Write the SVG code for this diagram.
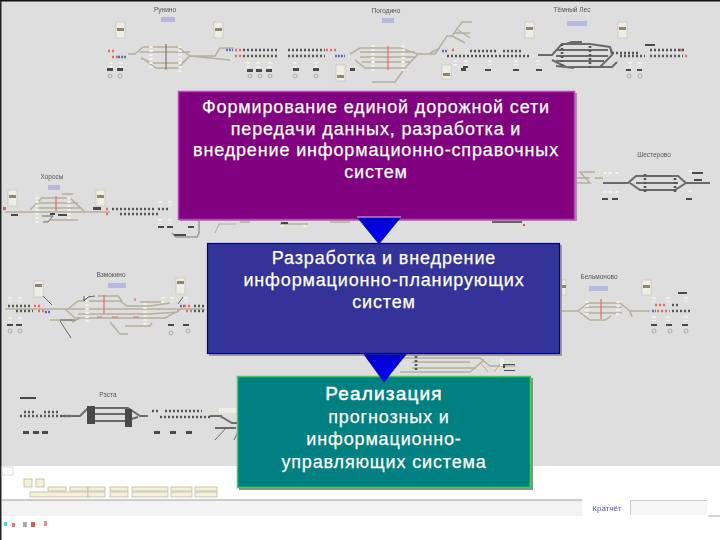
<svg xmlns="http://www.w3.org/2000/svg" width="720" height="540" viewBox="0 0 720 540">
<defs>
<filter id="soft" x="-5%" y="-5%" width="110%" height="110%"><feGaussianBlur stdDeviation="0.6"/></filter>
<linearGradient id="tri" x1="0" y1="0" x2="0" y2="1"><stop offset="0" stop-color="#0000cc"/><stop offset="1" stop-color="#0000ff"/></linearGradient>
</defs>
<style>
.t{fill:none;stroke:#b4b09c;stroke-width:1.5}
.d{fill:none;stroke:#6a6a6a;stroke-width:2}
.n{fill:none;stroke:#666;stroke-width:1}
.k{fill:none;stroke:#555;stroke-width:2.6;stroke-dasharray:2 2}
.r{fill:none;stroke:#ee6666;stroke-width:2.6;stroke-dasharray:2 2}
.rl{fill:none;stroke:#ee6666;stroke-width:1.2}
.u{fill:none;stroke:#6666bb;stroke-width:2.6;stroke-dasharray:2 1}
.w{fill:none;stroke:#f4f1e4;stroke-width:3.5;stroke-dasharray:2 2}
.b{fill:#4a4a4a}
.c{fill:none;stroke:#aaa;stroke-width:1}
.cab{fill:#efeee4;stroke:#bbb;stroke-width:.6}
.cat{fill:#8d8768}
.pl{fill:#b8b8dc}
.st{font-family:"Liberation Sans",sans-serif;font-size:6.5px;fill:#555;text-anchor:middle}
.btn{fill:#f4f1d8;stroke:#b5b29a;stroke-width:.7}
.m{font-family:"Liberation Sans",sans-serif;font-size:18px;fill:#fff;text-anchor:middle;letter-spacing:.85px;stroke:#fff;stroke-width:.25}
.h{font-size:19px;letter-spacing:1.2px;stroke-width:.5}
</style>
<rect width="720" height="540" fill="#fff"/>
<rect x="1" y="1" width="719" height="465" fill="#dedede"/>
<rect width="720" height="1.5" fill="#111"/>
<rect width="1.5" height="540" fill="#222"/>
<g id="schematics" filter="url(#soft)">
<!-- Рунино -->
<text class="st" x="165" y="12">Рунино</text><rect class="pl" x="161" y="17" width="14" height="5"/>
<rect class="cab" x="116" y="22" width="9" height="16"/><rect class="cat" x="117" y="28" width="7" height="3"/>
<rect class="cab" x="214" y="22" width="9" height="16"/><rect class="cat" x="215" y="28" width="7" height="3"/>
<path class="t" d="M128 54H135L143 47H178L190 56H215L220 48H234M140 52H190M141 58L151 63H182L190 56M146 61L156 68H178L190 56M190 56L230 60"/>
<path class="w" d="M151 46v24M180 46v26"/>
<path class="n" d="M166 44v26"/>
<path class="r" d="M108 51H116M112 57H120M235 50H241M235 56H241"/>
<path class="u" d="M118 57H127M226 50H233"/>
<path class="k" d="M243 50H278M288 50H325"/>
<path class="k" d="M243 56H278M288 56H325"/>
<path class="r" d="M326 50H336"/><path class="u" d="M335 56H345"/>
<path class="w" d="M111 62v6M121 62v6M248 62v6M258 62v6M270 62v6M295 62v6M316 62v6"/>
<path class="b" d="M107 68h6v3h-6zM117 68h6v3h-6zM247 69h6v3h-6zM256 69h6v3h-6zM266 69h6v3h-6zM293 68h6v3h-6zM313 68h6v3h-6zM350 68h5v3h-5z"/>
<circle class="c" cx="110" cy="76" r="2"/><circle class="c" cx="120" cy="76" r="2"/>
<circle class="c" cx="250" cy="76" r="2"/><circle class="c" cx="260" cy="76" r="2"/><circle class="c" cx="270" cy="76" r="2"/><circle class="c" cx="295" cy="76" r="2"/><circle class="c" cx="316" cy="76" r="2"/>
<rect class="cab" x="336" y="65" width="9" height="16"/><rect class="cat" x="337" y="75" width="7" height="3"/>
<!-- Погодино -->
<text class="st" x="386" y="13">Погодино</text><rect class="pl" x="382" y="18" width="12" height="5"/>
<path class="t" d="M350 54L360 48H400L418 54L405 68H365L355 60M360 52H415M360 57H415M362 62H410M418 54H435L447 36H452L462 22H472M455 33H470M458 30L470 38M452 36L465 43M405 68L395 82H372M430 53L440 48"/>
<path class="rl" d="M388 46v24"/>
<path class="w" d="M373 45v26M403 45v26"/>
<rect class="cab" x="442" y="65" width="9" height="14"/><rect class="cat" x="443" y="73" width="7" height="3"/>
<path class="k" d="M470 51H498M503 51H522"/><path class="k" d="M447 56H530"/>
<path class="r" d="M452 50H455"/><path class="u" d="M442 51H447"/>
<path class="w" d="M455 60v6M466 60v6M490 60v5M516 60v5M538 60v5"/>
<path class="b" d="M461 68h5v3h-5zM463 66h5v2h-5zM485 69h6v2h-6zM513 69h6v2h-6zM536 69h6v2h-6z"/>
<!-- Тёмный Лес -->
<text class="st" x="572" y="12">Тёмный Лес</text><rect class="pl" x="567" y="21" width="20" height="5"/>
<rect class="cab" x="525" y="22" width="9" height="16"/><rect class="cat" x="526" y="27" width="7" height="3"/>
<rect class="cab" x="618" y="22" width="9" height="16"/><rect class="cat" x="619" y="27" width="7" height="3"/>
<path class="d" d="M538 55H552L562 44H590L610 47L612 55L600 67H566L552 60M556 50H608M556 56H608M556 61H604M556 66L574 68M600 67H612L617 62M566 44L572 42H582M610 47L612 52"/>
<path class="k" d="M562 44v22M590 46v24"/>
<path class="k" d="M612 53H640M650 50H685M620 56H645M650 56H683"/>
<path class="r" d="M680 50H684M685 56H689"/>
<path class="w" d="M630 62v5M640 62v5"/>
<path class="b" d="M626 69h5v2h-5zM637 69h5v2h-5zM645 44h10v2h-10z"/>
<circle class="c" cx="629" cy="76" r="2"/><circle class="c" cx="640" cy="76" r="2"/>
<!-- Шестерово -->
<text class="st" x="654" y="157">Шестерово</text>
<path class="t" d="M575 183H590L580 172H595M575 178H590M595 178H603"/>
<path class="w" d="M605 172v3M610 172v3M617 172v3M605 191v4M610 191v4M617 191v4M690 170v4M690 190v4"/>
<path class="d" d="M603 183H628L636 176H678L686 183H710M636 183H678M630 183L640 190H675L686 183"/>
<path class="k" d="M645 174v20M675 178v16"/>
<path class="b" d="M602 198h6v2h-6zM612 198h6v2h-6zM686 198h6v2h-6zM692 172h11v2h-11zM694 179h8v2h-8z"/>
<path d="M492 222H522" stroke="#666" stroke-width="2"/><rect x="523" y="224" width="2" height="2" fill="#e44"/>
<!-- Хоросы -->
<text class="st" x="52" y="179">Хоросы</text><rect class="pl" x="48" y="185" width="12" height="5"/>
<rect class="cab" x="8" y="190" width="9" height="16"/><rect class="cat" x="9" y="195" width="7" height="3"/>
<rect class="cab" x="96" y="190" width="9" height="16"/><rect class="cat" x="97" y="195" width="7" height="3"/>
<path class="t" d="M5 212H110M30 210L42 198H70L85 212M36 203H78M38 208H82M62 194H73M50 220H78"/>
<path class="w" d="M37 197v27M69 197v24"/>
<path class="rl" d="M56 196v15"/>
<path class="n" d="M42 216H53L48 222H43"/>
<path class="b" d="M11 214h7v2h-7zM50 213h5v2h-5zM58 214h9v2h-9zM93 207h8v3h-8z"/>
<path class="r" d="M106 209H110M106 214H110"/><rect x="3" y="207" width="3" height="3" fill="#e55"/>
<path class="k" d="M112 209H156M158 209H170"/><path class="k" d="M120 214H158"/>
<path class="w" d="M160 201v5M170 201v5M160 219v5M170 219v5"/>
<path class="b" d="M158 226h6v2h-6zM167 226h6v2h-6zM188 226h6v2h-6z"/>
<path d="M172 233L176 237H197L199 233V220" fill="none" stroke="#999" stroke-width="1.5"/>
<path class="b" d="M174 234h12v2h-12z"/>
<path d="M215 233L219 224H236" fill="none" stroke="#aaa"/>
<path class="t" d="M240 222H250M280 224H308M330 222H350"/><path class="b" d="M281 222h7v2h-7z"/>
<path class="w" d="M282 225v4M305 225v4"/>
<!-- Взмокино -->
<text class="st" x="111" y="277">Взмокино</text><rect class="pl" x="108" y="283" width="18" height="5"/>
<rect class="cab" x="34" y="281" width="9" height="16"/><rect class="cat" x="35" y="284" width="7" height="3"/>
<rect class="cab" x="176" y="278" width="9" height="16"/><rect class="cat" x="177" y="281" width="7" height="3"/>
<path class="t" d="M5 309H205M68 309L78 301H120L127 306H150L170 303M78 314H150L178 312M65 309L75 318H165L180 310M82 301L90 296M98 296H118L122 301M140 302H165M110 322L120 334H128M125 326H150L152 323M50 320H72M72 322L80 318"/>
<path class="w" d="M87 296v26M145 303v24M163 297v8"/>
<path class="n" d="M43 296L52 305M60 321L71 338M183 297L178 304M84 296V301L88 297L95 296M60 320H75"/>
<path class="rl" d="M104 295v19M135 298v3M97 317H102M112 317H118M133 317H139"/>
<path class="k" d="M8 306H30M16 311H33"/>
<path class="r" d="M34 306H40M38 311H44M184 306H190M186 311H192"/><path class="u" d="M45 312H50M180 306H184"/>
<path class="k" d="M194 306H205M194 311H205"/>
<path class="b" d="M7 324h6v2h-6zM16 324h6v2h-6zM168 324h6v2h-6zM183 324h6v2h-6z"/>
<circle class="c" cx="10" cy="331" r="2"/><circle class="c" cx="20" cy="331" r="2"/><circle class="c" cx="171" cy="333" r="2"/><circle class="c" cx="188" cy="331" r="2"/>
<path class="w" d="M10 297v5M20 297v5M10 317v5M20 317v5M172 297v5M186 297v5"/>
<!-- Бельмоново -->
<text class="st" x="599" y="279">Бельмоново</text><rect class="pl" x="589" y="286" width="19" height="5"/>
<rect class="cab" x="562" y="280" width="4" height="15"/><rect class="cat" x="562" y="285" width="4" height="3"/>
<rect class="cab" x="642" y="280" width="9" height="15"/><rect class="cat" x="643" y="285" width="7" height="3"/>
<path class="t" d="M562 311H578L588 303H620L630 311H650M585 307H622M585 313H622M578 311L590 320H605L611 316M630 311L632 317"/>
<path class="rl" d="M601 299v20"/>
<path class="w" d="M587 301v14M618 301v14"/>
<path class="u" d="M652 311H656"/><path class="r" d="M655 305H666M657 311H670"/>
<path class="k" d="M672 311H690M672 305H680"/>
<path class="w" d="M654 297v5M668 297v5M686 297v5M654 316v5M668 316v5M686 316v5"/>
<path class="b" d="M651 324h6v2h-6zM666 324h6v2h-6zM682 324h6v2h-6zM678 292h9v2h-9z"/>
<circle class="c" cx="654" cy="331" r="2"/><circle class="c" cx="670" cy="331" r="2"/><circle class="c" cx="686" cy="331" r="2"/>
<!-- Рэста -->
<text class="st" x="108" y="397">Рэста</text>
<path class="b" d="M20 397h16v2h-16z"/>
<path class="k" d="M24 412H36M44 412H58"/><path class="k" d="M20 416H72"/>
<path class="d" d="M62 416H80L88 408H128L140 416H148M88 414H130M88 419V421H125L138 417"/>
<path class="b" d="M87 406h8v18h-8zM125 409h7v18h-7z"/>
<path class="k" d="M152 411H160M165 411H202"/><path class="k" d="M160 417H210"/>
<path class="d" d="M210 416H222M220 416L232 423H240M215 428H236"/>
<rect x="219" y="408" width="18" height="5" fill="#efeee4"/>
<path class="n" d="M215 440L226 428M234 440L238 432"/>
<path class="b" d="M23 431h6v3h-6zM33 431h6v3h-6zM42 431h6v3h-6zM154 431h6v3h-6zM170 431h6v3h-6zM186 431h6v3h-6z"/>
<!-- fragments between the boxes -->
<path class="t" d="M400 358H480L490 366H515M400 372H470L484 360M412 362H470M412 368H476"/>
<path class="k" d="M416 356v16"/>
<path d="M480 362L488 372M500 364L494 372" stroke="#e0a070" fill="none"/>
<rect x="500" y="358" width="4" height="8" fill="#f0eee0"/>
<path class="b" d="M503 364h2v4h-2zM505 364h10v1h-10zM504 370h11v1h-11z"/>
</g>
<g id="toolbar" filter="url(#soft)">
<rect x="2" y="467" width="11" height="8" fill="#fff" stroke="#ccc" stroke-width=".7"/>
<rect class="btn" x="24" y="479" width="8" height="8"/><rect class="btn" x="36" y="479" width="8" height="8"/>
<rect class="btn" x="48" y="487" width="18" height="4"/><rect class="btn" x="70" y="487" width="18" height="4"/><rect class="btn" x="88" y="487" width="17" height="4"/><rect class="btn" x="110" y="487" width="18" height="4"/><rect class="btn" x="132" y="487" width="36" height="4"/><rect class="btn" x="171" y="487" width="21" height="4"/><rect class="btn" x="195" y="487" width="22" height="4"/>
<rect class="btn" x="30" y="492" width="58" height="5"/><rect class="btn" x="88" y="492" width="17" height="5"/><rect class="btn" x="110" y="492" width="18" height="5"/><rect class="btn" x="132" y="492" width="36" height="5"/><rect class="btn" x="171" y="492" width="21" height="5"/><rect class="btn" x="195" y="492" width="22" height="5"/>
<rect x="2" y="499" width="580" height="17" fill="#f3f3f3"/><rect x="2" y="499" width="580" height="2" fill="#ccc"/>
<rect x="630" y="500" width="77" height="15" fill="#f6f6f6"/><path d="M630.500 515V500.500H707" fill="none" stroke="#ccc" stroke-width="1"/>
<text x="607" y="511" font-family="'Liberation Sans',sans-serif" font-size="8" fill="#5a5ac8" text-anchor="middle">Кратчёт</text>
<path d="M708 516H720" stroke="#aaa"/>
<rect x="4" y="522" width="3" height="4" fill="#55cccc"/><rect x="12" y="523" width="3" height="4" fill="#dd7777"/><rect x="23" y="522" width="4" height="5" fill="#aaa"/><rect x="31" y="522" width="4" height="5" fill="#dd5555"/><rect x="44" y="521" width="3" height="5" fill="#e09090"/>
</g>
<g id="node-purple">
<rect x="180" y="93" width="397" height="128" fill="#a890a8"/>
<rect x="178.500" y="91.500" width="396" height="128" fill="#800080" stroke="#b848b8" stroke-width="1.5"/>
<text class="m" x="376" y="113">Формирование единой дорожной сети</text>
<text class="m" x="376" y="135">передачи данных, разработка и</text>
<text class="m" x="376" y="156">внедрение информационно-справочных</text>
<text class="m" x="376" y="178">систем</text>
</g>
<g id="node-blue">
<rect x="209" y="245" width="353" height="111" fill="#9a9a9a"/>
<rect x="207.500" y="243.500" width="352" height="110" fill="#333399" stroke="#000099" stroke-width="1.2"/>
<text class="m" x="384" y="264">Разработка и внедрение</text>
<text class="m" x="384" y="286">информационно-планирующих</text>
<text class="m" x="384" y="308">систем</text>
</g>
<g id="node-teal">
<rect x="239" y="378" width="294" height="112" fill="#8c8c8c"/>
<rect x="237.500" y="376.500" width="293" height="111" fill="#008080" stroke="#44cc55" stroke-width="1.5"/>
<text class="m h" x="384" y="400">Реализация</text>
<text class="m" x="389" y="423">прогнозных и</text>
<text class="m" x="384" y="445">информационно-</text>
<text class="m" x="384" y="468">управляющих система</text>
</g>
<g id="connectors">
<path d="M357 217H401L379 244Z" fill="url(#tri)" stroke="#101060" stroke-width=".7"/>
<path d="M357 217H401" stroke="#f0c8e8" stroke-width="1"/>
<path d="M364 354.500H406L384 382Z" fill="url(#tri)" stroke="#101060" stroke-width=".7"/>
</g>
</svg>
